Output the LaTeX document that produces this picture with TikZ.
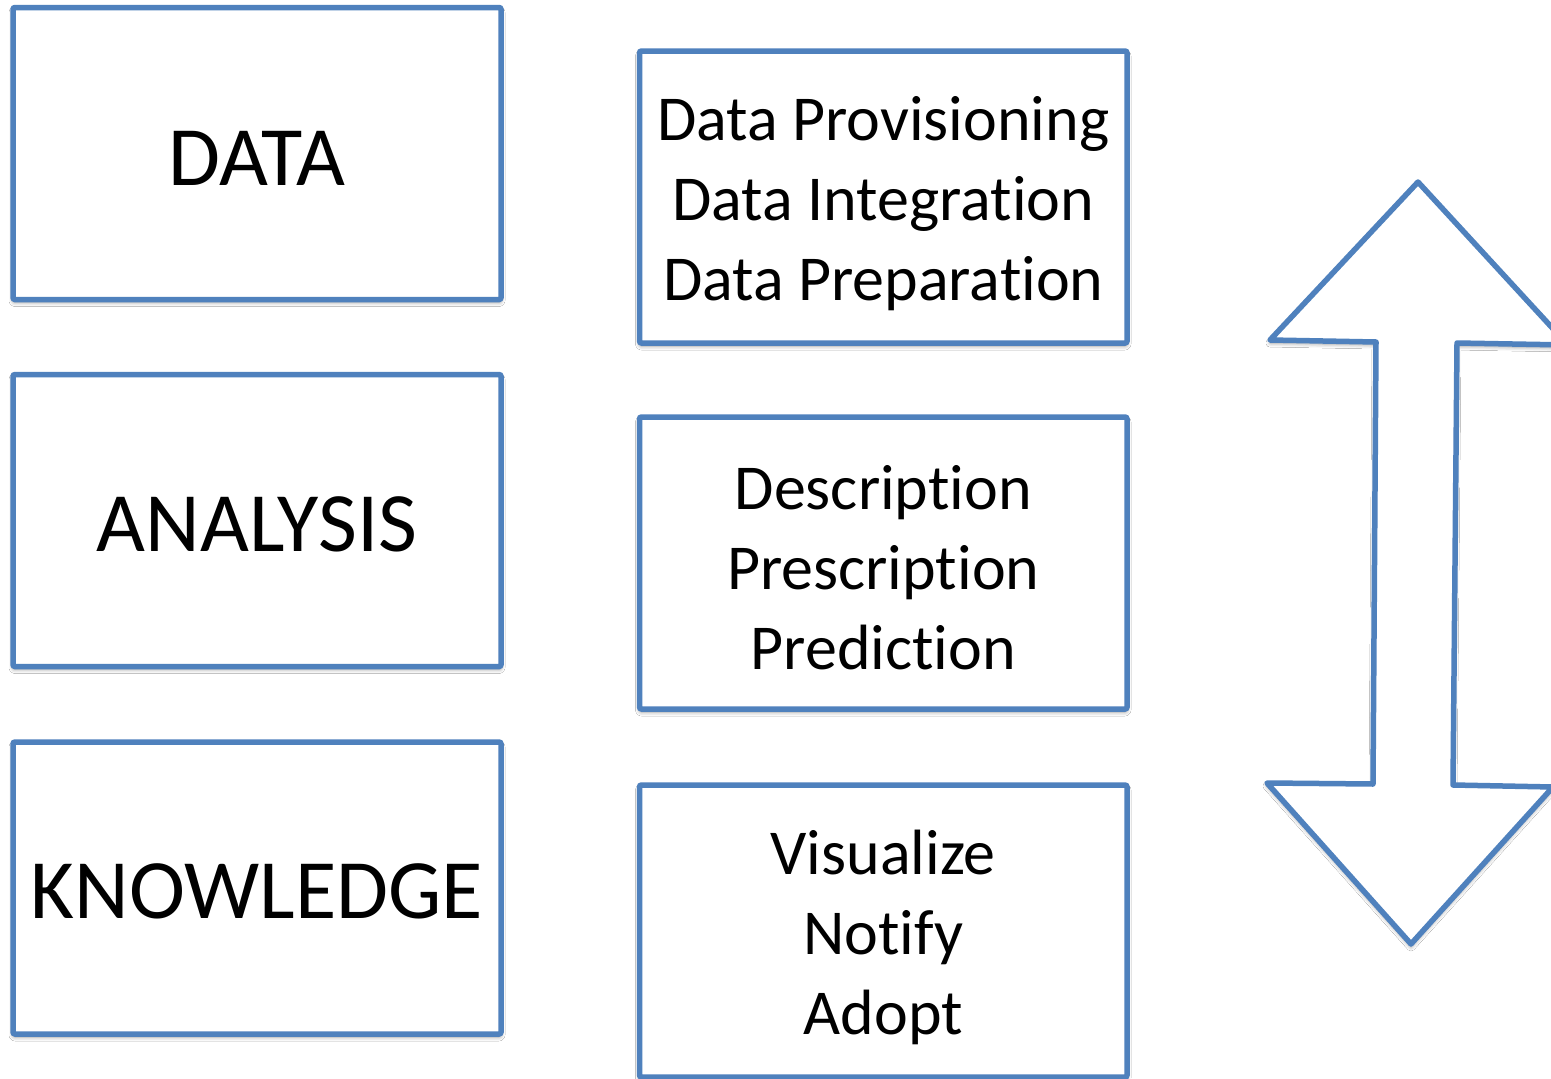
\documentclass[tikz,border=0pt]{standalone}
\usepackage{fontspec}
\setmainfont{Carlito}[Ligatures={NoCommon,NoContextual}]
\usetikzlibrary{shadows.blur}
\definecolor{boxblue}{HTML}{4F81BD}
\begin{document}
\begin{tikzpicture}[x=1pt,y=-1pt,
  softshadow/.style={blur shadow={shadow xshift=0pt,shadow yshift=-3pt,shadow blur radius=4pt,shadow opacity=40}},
  bigbox/.style={draw=boxblue,line width=5.5pt,fill=white,rounded corners=2pt,softshadow,
    minimum width=488pt,minimum height=292pt,inner sep=0pt},
  listbox/.style={draw=boxblue,line width=5.5pt,fill=white,rounded corners=2pt,softshadow,
    minimum width=487.5pt,minimum height=292pt,inner sep=0pt},
  bigtext/.style={inner sep=0pt,font=\fontsize{84.5}{100}\selectfont},
  listtext/.style={inner sep=0pt,align=center,font=\fontsize{64}{80}\selectfont}]
\useasboundingbox (0,0) rectangle (1551,1079);
\clip (0,0) rectangle (1551,1079);
\fill[white] (0,0) rectangle (1551,1079);
% left column
\node[bigbox] (data) at (257,153.5) {};
\node[bigbox] (analysis) at (257,520.5) {};
\node[bigbox] (knowledge) at (257,888) {};
\node[bigtext] (datat) at ([yshift=-4.5pt]data.center) {DATA};
\node[bigtext] (analysist) at ([yshift=-3.5pt]analysis.center) {ANALYSIS};
\node[bigtext] (knowledget) at ([yshift=-3.5pt]knowledge.center) {KNOWLEDGE};
% middle column
\node[listbox] (prep) at (883.25,197) {};
\node[listbox] (pred) at (883.25,563) {};
\node[listbox] (act) at (883.25,931) {};
\node[listtext] (prept) at ([yshift=-6.5pt]prep.center) {Data Provisioning\\Data Integration\\Data Preparation};
\node[listtext] (predt) at ([yshift=-5pt]pred.center) {Description\\Prescription\\Prediction};
\node[listtext] (actt) at ([yshift=-6.5pt]act.center) {Visualize\\Notify\\Adopt};
% double arrow
\draw[draw=boxblue,line width=5.5pt,fill=white,line join=round,softshadow]
  (1418,182) -- (1568,345) -- (1457,343) -- (1453,785) -- (1553,787)
  -- (1411,944) -- (1267,783) -- (1373,784) -- (1376,342) -- (1270,340) -- cycle;
\end{tikzpicture}
\end{document}
